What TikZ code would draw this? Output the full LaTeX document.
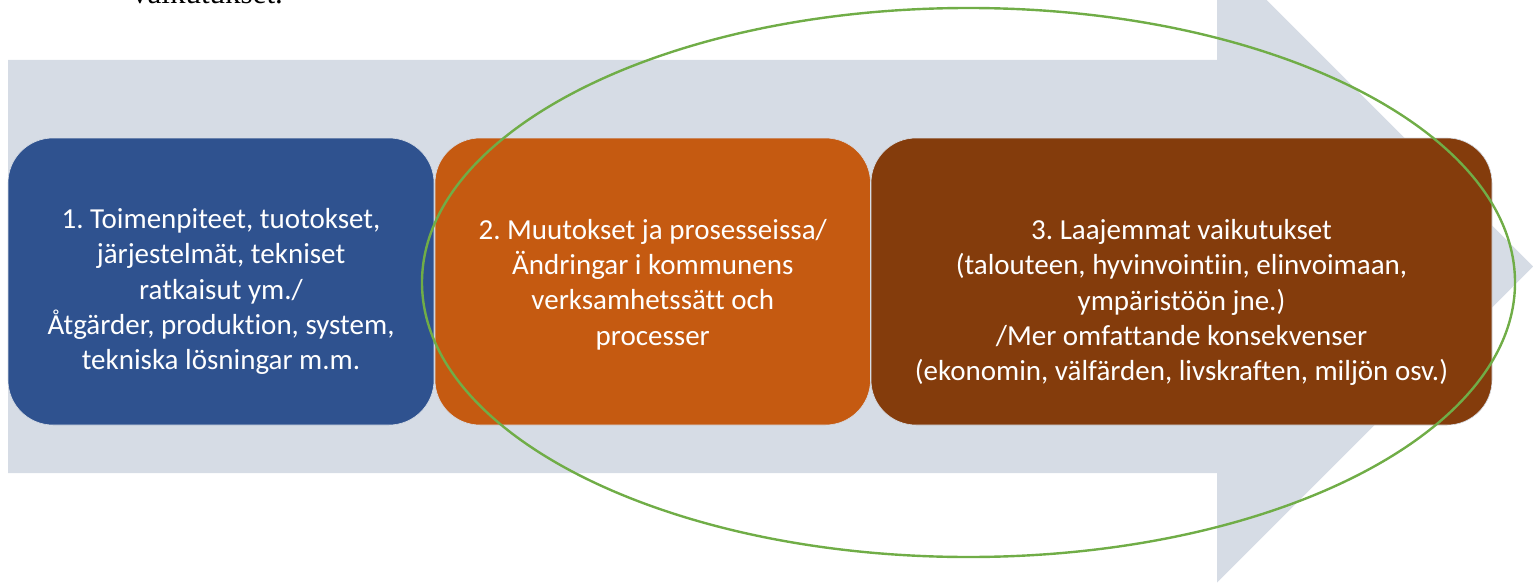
\documentclass[tikz,border=0pt]{standalone}
\usepackage{fontspec}
\setmainfont{Carlito}[Ligatures=NoCommon]
\newfontfamily\bodyserif{Liberation Serif}
\usetikzlibrary{shapes.geometric,positioning}
\frenchspacing
\definecolor{arrow grey}{HTML}{D6DCE5}
\definecolor{stage blue}{HTML}{2F528F}
\definecolor{stage orange}{HTML}{C55A11}
\definecolor{stage brown}{HTML}{843C0C}
\definecolor{focus green}{HTML}{70AD47}
\tikzset{stage node/.style={rectangle, rounded corners=45pt, draw=arrow grey,
    line width=0.6pt, inner sep=0pt, minimum height=287pt}}
\tikzset{stage text/.style={text=white, align=center, inner sep=0pt,
    font=\fontsize{29}{35.4}\selectfont}}
\tikzset{focus ellipse/.style={ellipse, draw=focus green, line width=2.4pt, inner sep=0pt}}
\tikzset{big arrow/.style={fill=arrow grey}}

\begin{document}
\begin{tikzpicture}
  [x=1pt, y=-1pt]
  \useasboundingbox (0,0) rectangle (1533,583);
  \clip (0,0) rectangle (1533,583);

  \node [anchor=base west, inner sep=0pt, font=\bodyserif\fontsize{31}{37}\selectfont]
        (caption) at (132, 4) {vaikutukset.};

  \fill [big arrow] (8,60) -- (1217,60) -- (1217,-49.5) -- (1533,266.5)
        -- (1217,582.5) -- (1217,473) -- (8,473) -- cycle;

  \node [stage node, fill=stage blue,   minimum width=426pt]   (actions) at ( 221,   281.5) {};
  \node [stage node, fill=stage orange, minimum width=435.5pt] (changes) at ( 652.75, 281.5) {};
  \node [stage node, fill=stage brown,  minimum width=621pt]   (impacts) at (1181.5,  281.5) {};

  \node [stage text] (actions text) at ([yshift=-10pt]actions.center)
        {1. Toimenpiteet, tuotokset,\\järjestelmät, tekniset\\ratkaisut ym./\\Åtgärder, produktion, system,\\tekniska lösningar m.m.};
  \node [stage text] (changes text) at ([yshift=-3pt]changes.center)
        {2. Muutokset ja prosesseissa/\\Ändringar i kommunens\\verksamhetssätt och\\processer};
  \node [stage text] (impacts text) at ([yshift=-21pt]impacts.center)
        {3. Laajemmat vaikutukset\\(talouteen, hyvinvointiin, elinvoimaan,\\ympäristöön jne.)\\/Mer omfattande konsekvenser\\(ekonomin, välfärden, livskraften, miljön osv.)};

  \node [focus ellipse, minimum width=1093pt, minimum height=549pt] (focus) at (968.5, 282.5) {};
\end{tikzpicture}
\end{document}
